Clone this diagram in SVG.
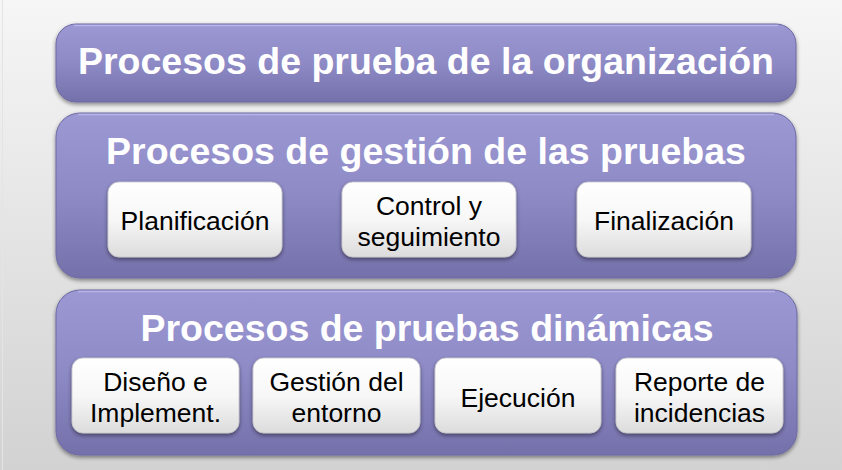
<svg xmlns="http://www.w3.org/2000/svg" width="842" height="470" viewBox="0 0 842 470">
<defs>
<linearGradient id="bg" x1="0" y1="0" x2="0" y2="1"><stop offset="0" stop-color="#f6f6f6"/><stop offset="1" stop-color="#d2d2d2"/></linearGradient>
<linearGradient id="outer" x1="0" y1="0" x2="0" y2="1"><stop offset="0" stop-color="#9c98d4"/><stop offset="0.5" stop-color="#8e8ac6"/><stop offset="1" stop-color="#7470aa"/></linearGradient>
<linearGradient id="inner" x1="0" y1="0" x2="0" y2="1"><stop offset="0" stop-color="#ffffff"/><stop offset="0.5" stop-color="#f7f7f7"/><stop offset="1" stop-color="#dcdcdc"/></linearGradient>
<filter id="sh" x="-10%" y="-10%" width="120%" height="130%"><feGaussianBlur in="SourceAlpha" stdDeviation="2"/><feOffset dx="0" dy="2"/><feComponentTransfer><feFuncA type="linear" slope="0.45"/></feComponentTransfer><feMerge><feMergeNode/><feMergeNode in="SourceGraphic"/></feMerge></filter>
</defs>
<style>
.ob{fill:url(#outer);stroke:#6d69a3;stroke-width:1;filter:url(#sh)}
.hl{fill:none;stroke:#b8b5e6;stroke-width:1.5}
.ib{fill:url(#inner);stroke:#c8c8c8;stroke-width:0.8;filter:url(#sh)}
.tt{font-family:"Liberation Sans",Arial,sans-serif;font-weight:bold;font-size:37.5px;fill:#ffffff;text-anchor:middle}
.it{font-family:"Liberation Sans",Arial,sans-serif;font-size:26.5px;fill:#000000;text-anchor:middle}
</style>
<rect x="0" y="0" width="842" height="470" fill="url(#bg)"/>
<line x1="2.5" y1="0" x2="2.5" y2="470" stroke="#e4e4e4" stroke-width="1"/>

<g id="org">
<rect class="ob" x="56" y="24" width="740" height="78" rx="20"/>
<path class="hl" d="M74 25.5 H778"/>
<text class="tt" x="426" y="74">Procesos de prueba de la organización</text>
</g>

<g id="gestion">
<rect class="ob" x="56" y="113" width="740" height="165" rx="24"/>
<path class="hl" d="M78 114.5 H774"/>
<text class="tt" x="426" y="164">Procesos de gestión de las pruebas</text>
</g>
<g id="planificacion">
<rect class="ib" x="108" y="182" width="174" height="75" rx="11"/>
<text class="it" x="195" y="230">Planificación</text>
</g>
<g id="control">
<rect class="ib" x="342" y="182" width="174" height="75" rx="11"/>
<text class="it" x="429" y="215">Control y</text>
<text class="it" x="429" y="246">seguimiento</text>
</g>
<g id="finalizacion">
<rect class="ib" x="577" y="182" width="174" height="75" rx="11"/>
<text class="it" x="664" y="230">Finalización</text>
</g>

<g id="dinamicas">
<rect class="ob" x="56" y="290" width="741" height="165" rx="24"/>
<path class="hl" d="M78 291.5 H775"/>
<text class="tt" x="427" y="341">Procesos de pruebas dinámicas</text>
</g>
<g id="diseno">
<rect class="ib" x="72" y="358" width="167" height="75" rx="11"/>
<text class="it" x="155.5" y="391">Diseño e</text>
<text class="it" x="155.5" y="422">Implement.</text>
</g>
<g id="entorno">
<rect class="ib" x="253" y="358" width="167" height="75" rx="11"/>
<text class="it" x="336.5" y="391">Gestión del</text>
<text class="it" x="336.5" y="422">entorno</text>
</g>
<g id="ejecucion">
<rect class="ib" x="435" y="358" width="166" height="75" rx="11"/>
<text class="it" x="518" y="407">Ejecución</text>
</g>
<g id="reporte">
<rect class="ib" x="616" y="358" width="167" height="75" rx="11"/>
<text class="it" x="699.5" y="391">Reporte de</text>
<text class="it" x="699.5" y="422">incidencias</text>
</g>
<g id="connectors"/>
</svg>
